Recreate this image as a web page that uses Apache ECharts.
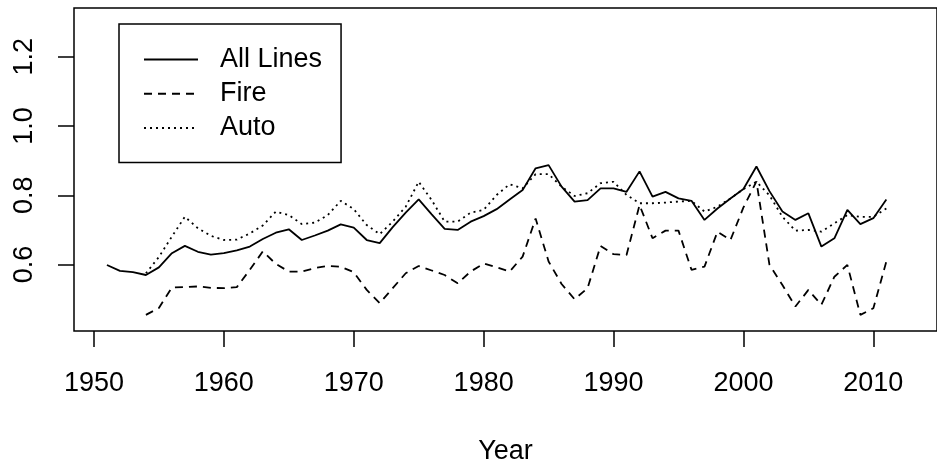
<!DOCTYPE html>
<html><head><meta charset="utf-8">
<script src="https://cdn.jsdelivr.net/npm/echarts@6/dist/echarts.min.js"></script>
<style>html,body{margin:0;padding:0;background:#fff}#c{width:937px;height:471px}</style>
</head><body><div id="c"></div>
<script>
const allYears = [1951,1952,1953,1954,1955,1956,1957,1958,1959,1960,1961,1962,1963,1964,1965,1966,1967,1968,1969,1970,
  1971,1972,1973,1974,1975,1976,1977,1978,1979,1980,1981,1982,1983,1984,1985,1986,1987,1988,1989,1990,
  1991,1992,1993,1994,1995,1996,1997,1998,1999,2000,2001,2002,2003,2004,2005,2006,2007,2008,2009,2010,2011];
const subYears = [1954,1955,1956,1957,1958,1959,1960,1961,1962,1963,1964,1965,1966,1967,1968,1969,1970,
  1971,1972,1973,1974,1975,1976,1977,1978,1979,1980,1981,1982,1983,1984,1985,1986,1987,1988,1989,1990,
  1991,1992,1993,1994,1995,1996,1997,1998,1999,2000,2001,2002,2003,2004,2005,2006,2007,2008,2009,2010,2011];
const allLines = [0.599,0.582,0.578,0.570,0.592,0.633,0.654,0.637,0.629,0.633,
  0.641,0.652,0.674,0.692,0.702,0.671,0.684,0.698,0.716,0.707,
  0.671,0.662,0.708,0.750,0.788,0.745,0.703,0.700,0.724,0.740,
  0.760,0.788,0.815,0.878,0.887,0.825,0.782,0.786,0.820,0.820,
  0.810,0.869,0.796,0.810,0.791,0.784,0.729,0.762,0.791,0.818,
  0.883,0.812,0.753,0.729,0.748,0.652,0.676,0.758,0.717,0.734,0.788];
const fire = [0.455,0.475,0.534,0.535,0.537,0.533,0.532,0.535,0.585,0.638,
  0.602,0.580,0.580,0.590,0.596,0.594,0.578,0.527,0.489,0.532,
  0.575,0.596,0.583,0.570,0.546,0.580,0.603,0.592,0.580,0.623,
  0.733,0.609,0.544,0.500,0.532,0.654,0.630,0.628,0.772,0.676,
  0.698,0.698,0.585,0.594,0.695,0.671,0.765,0.840,0.600,0.541,
  0.479,0.527,0.484,0.565,0.599,0.455,0.474,0.609];
const auto = [0.575,0.622,0.681,0.738,0.705,0.683,0.671,0.672,0.690,0.713,
  0.753,0.743,0.717,0.721,0.743,0.784,0.760,0.714,0.688,0.724,
  0.767,0.839,0.786,0.724,0.724,0.750,0.758,0.801,0.832,0.820,
  0.861,0.861,0.825,0.798,0.806,0.835,0.839,0.801,0.777,0.777,
  0.779,0.782,0.784,0.753,0.767,0.791,0.818,0.839,0.800,0.738,
  0.698,0.700,0.695,0.719,0.743,0.738,0.738,0.762];
const xTicks = [1950,1960,1970,1980,1990,2000,2010];
const yTicks = [0.6,0.8,1.0,1.2];
const seriesNames = ['All Lines','Fire','Auto'];

const FONT = 'Liberation Sans, Arial, sans-serif';
const pair = (xs, ys) => xs.map((x, i) => [x, ys[i]]);
const chart = echarts.init(document.getElementById('c'), null, {renderer: 'canvas'});
const lineBase = {type: 'line', symbol: 'none', showSymbol: false, silent: true, animation: false};
chart.setOption({
  animation: false,
  backgroundColor: '#fff',
  grid: {left: 74, top: 8, right: -2, bottom: 140, show: true, borderColor: '#000', borderWidth: 1.5, backgroundColor: 'transparent'},
  xAxis: {
    type: 'value', min: 1948.464, max: 2014.9,
    name: 'Year', nameLocation: 'middle', nameGap: 107,
    nameTextStyle: {fontSize: 27, fontFamily: FONT, color: '#000'},
    axisLine: {show: false},
    splitLine: {show: false},
    axisTick: {show: true, length: 16, inside: false, customValues: xTicks, lineStyle: {color: '#000', width: 1.5}},
    axisLabel: {customValues: xTicks, fontSize: 27, fontFamily: FONT, color: '#000', margin: 39, formatter: v => String(v)}
  },
  yAxis: {
    type: 'value', min: 0.4084, max: 1.3405,
    axisLine: {show: false},
    splitLine: {show: false},
    axisTick: {show: true, length: 16, inside: false, customValues: yTicks, lineStyle: {color: '#000', width: 1.5}},
    axisLabel: {customValues: yTicks, rotate: 90, fontSize: 27, fontFamily: FONT, color: '#000', margin: 36, formatter: v => v.toFixed(1)}
  },
  legend: {
    orient: 'vertical', left: 119, top: 24,
    padding: [22, 19, 21, 24], itemWidth: 54, itemHeight: 14, itemGap: 7.2,
    borderColor: '#000', borderWidth: 1.5, backgroundColor: '#fff',
    itemStyle: {opacity: 0, borderWidth: 0},
    textStyle: {fontSize: 27, fontFamily: FONT, color: '#000', lineHeight: 27, padding: [0, 0, 0, 17]},
    data: seriesNames
  },
  series: [
    Object.assign({}, lineBase, {name: seriesNames[0], data: pair(allYears, allLines), lineStyle: {color: '#000', width: 1.8, type: 'solid'}, itemStyle: {color: '#000'}}),
    Object.assign({}, lineBase, {name: seriesNames[1], data: pair(subYears, fire), lineStyle: {color: '#000', width: 1.8, type: [8, 6]}, itemStyle: {color: '#000'}}),
    Object.assign({}, lineBase, {name: seriesNames[2], data: pair(subYears, auto), lineStyle: {color: '#000', width: 1.8, type: [2, 4]}, itemStyle: {color: '#000'}})
  ]
});
</script>
</body></html>
